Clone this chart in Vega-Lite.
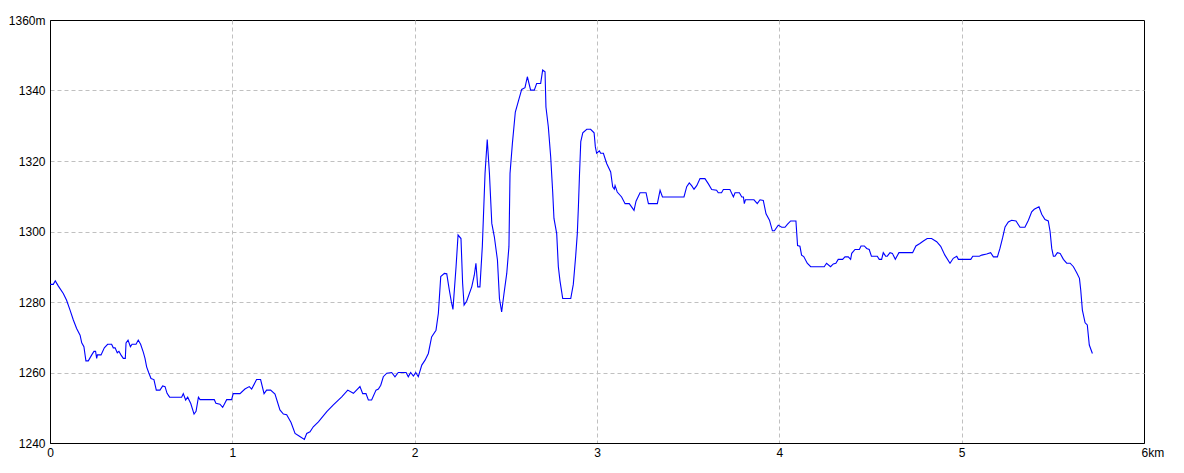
{
  "$schema": "https://vega.github.io/schema/vega-lite/v6.json",
  "width": 1094,
  "height": 423,
  "autosize": {"type": "none"},
  "padding": {"left": 50, "top": 20, "right": 40, "bottom": 30},
  "background": "white",
  "config": {
    "view": {"stroke": "black", "strokeWidth": 1},
    "axis": {
      "labelFont": "Liberation Sans",
      "labelFontSize": 12,
      "labelColor": "black",
      "ticks": false,
      "domainColor": "black",
      "domainWidth": 1,
      "gridColor": "#c0c0c0",
      "gridDash": [4, 3],
      "gridWidth": 1,
      "title": null
    }
  },
  "data": {
    "values": [
      {"d":0,"e":1285},{"d":0.018,"e":1285},{"d":0.029,"e":1286},{"d":0.046,"e":1284.5},{"d":0.073,"e":1282.4},{"d":0.091,"e":1280.5},{"d":0.11,"e":1277.7},{"d":0.128,"e":1274.9},{"d":0.146,"e":1272.5},{"d":0.165,"e":1270.6},{"d":0.174,"e":1268.4},{"d":0.186,"e":1267.3},{"d":0.197,"e":1263.3},{"d":0.21,"e":1263.3},{"d":0.229,"e":1265},{"d":0.241,"e":1266},{"d":0.25,"e":1266},{"d":0.256,"e":1264},{"d":0.26,"e":1265},{"d":0.28,"e":1265},{"d":0.298,"e":1267},{"d":0.316,"e":1268},{"d":0.338,"e":1268},{"d":0.347,"e":1267},{"d":0.357,"e":1267},{"d":0.369,"e":1265.6},{"d":0.378,"e":1266},{"d":0.389,"e":1265},{"d":0.402,"e":1264},{"d":0.413,"e":1264},{"d":0.417,"e":1268.4},{"d":0.428,"e":1269.2},{"d":0.441,"e":1267.3},{"d":0.45,"e":1268},{"d":0.472,"e":1268},{"d":0.484,"e":1269.2},{"d":0.497,"e":1268},{"d":0.512,"e":1265.7},{"d":0.521,"e":1264},{"d":0.53,"e":1261.6},{"d":0.541,"e":1260},{"d":0.554,"e":1258.3},{"d":0.57,"e":1258},{"d":0.583,"e":1255},{"d":0.603,"e":1255},{"d":0.618,"e":1256.2},{"d":0.631,"e":1256},{"d":0.642,"e":1254.1},{"d":0.656,"e":1253},{"d":0.722,"e":1253},{"d":0.731,"e":1254},{"d":0.744,"e":1252.2},{"d":0.755,"e":1253},{"d":0.772,"e":1251.2},{"d":0.79,"e":1248.2},{"d":0.801,"e":1249},{"d":0.814,"e":1253},{"d":0.823,"e":1252.3},{"d":0.901,"e":1252.3},{"d":0.91,"e":1251.3},{"d":0.932,"e":1251},{"d":0.947,"e":1250.1},{"d":0.969,"e":1252.3},{"d":0.996,"e":1252.3},{"d":1.005,"e":1254},{"d":1.042,"e":1254},{"d":1.069,"e":1255.3},{"d":1.093,"e":1256},{"d":1.106,"e":1255.3},{"d":1.133,"e":1258},{"d":1.155,"e":1258},{"d":1.174,"e":1254},{"d":1.188,"e":1255},{"d":1.21,"e":1255},{"d":1.234,"e":1253.9},{"d":1.261,"e":1249.4},{"d":1.28,"e":1248.2},{"d":1.298,"e":1248},{"d":1.322,"e":1245.8},{"d":1.344,"e":1242.7},{"d":1.366,"e":1242},{"d":1.395,"e":1241},{"d":1.408,"e":1242.7},{"d":1.426,"e":1243.2},{"d":1.444,"e":1244.6},{"d":1.472,"e":1246},{"d":1.518,"e":1248.9},{"d":1.554,"e":1250.8},{"d":1.6,"e":1253.1},{"d":1.633,"e":1255},{"d":1.664,"e":1254.1},{"d":1.7,"e":1256},{"d":1.715,"e":1254},{"d":1.733,"e":1254},{"d":1.746,"e":1252.2},{"d":1.764,"e":1252.2},{"d":1.788,"e":1255},{"d":1.801,"e":1255.3},{"d":1.814,"e":1256.4},{"d":1.828,"e":1258.8},{"d":1.847,"e":1259.8},{"d":1.874,"e":1260},{"d":1.892,"e":1258.8},{"d":1.91,"e":1260},{"d":1.953,"e":1260},{"d":1.965,"e":1258.8},{"d":1.978,"e":1260},{"d":1.993,"e":1259},{"d":2.006,"e":1260},{"d":2.02,"e":1258.8},{"d":2.039,"e":1262.1},{"d":2.057,"e":1263.5},{"d":2.075,"e":1265.4},{"d":2.093,"e":1270.1},{"d":2.117,"e":1272},{"d":2.13,"e":1276.8},{"d":2.143,"e":1287.2},{"d":2.163,"e":1288.1},{"d":2.176,"e":1288},{"d":2.19,"e":1283.4},{"d":2.201,"e":1280.1},{"d":2.21,"e":1277.9},{"d":2.227,"e":1290},{"d":2.238,"e":1299},{"d":2.254,"e":1298},{"d":2.263,"e":1285.3},{"d":2.271,"e":1279.1},{"d":2.285,"e":1280.2},{"d":2.313,"e":1284.3},{"d":2.327,"e":1287.6},{"d":2.336,"e":1291},{"d":2.346,"e":1284.3},{"d":2.358,"e":1284.3},{"d":2.371,"e":1295.7},{"d":2.386,"e":1316.5},{"d":2.398,"e":1326.1},{"d":2.41,"e":1316.5},{"d":2.423,"e":1302.3},{"d":2.437,"e":1298.5},{"d":2.454,"e":1291.9},{"d":2.465,"e":1281},{"d":2.477,"e":1277.2},{"d":2.49,"e":1282.4},{"d":2.505,"e":1288.1},{"d":2.517,"e":1295.7},{"d":2.523,"e":1316.5},{"d":2.536,"e":1325},{"d":2.552,"e":1333.9},{"d":2.57,"e":1337.2},{"d":2.587,"e":1340.3},{"d":2.605,"e":1340.8},{"d":2.618,"e":1343.9},{"d":2.636,"e":1340.1},{"d":2.656,"e":1340.1},{"d":2.669,"e":1342},{"d":2.691,"e":1342},{"d":2.702,"e":1345.8},{"d":2.715,"e":1345.3},{"d":2.72,"e":1335.3},{"d":2.733,"e":1329.7},{"d":2.746,"e":1321.2},{"d":2.757,"e":1311.2},{"d":2.764,"e":1303.7},{"d":2.779,"e":1299.4},{"d":2.788,"e":1290},{"d":2.797,"e":1286},{"d":2.812,"e":1281},{"d":2.856,"e":1281},{"d":2.87,"e":1285},{"d":2.883,"e":1293},{"d":2.892,"e":1299.4},{"d":2.898,"e":1307},{"d":2.904,"e":1316.2},{"d":2.911,"e":1325.5},{"d":2.922,"e":1328},{"d":2.944,"e":1329},{"d":2.965,"e":1329},{"d":2.984,"e":1328},{"d":2.991,"e":1324},{"d":2.998,"e":1322.2},{"d":3.013,"e":1322.9},{"d":3.02,"e":1322.2},{"d":3.035,"e":1322.2},{"d":3.053,"e":1319.3},{"d":3.075,"e":1316.9},{"d":3.086,"e":1312.7},{"d":3.095,"e":1312},{"d":3.099,"e":1313},{"d":3.111,"e":1311.2},{"d":3.135,"e":1309.8},{"d":3.154,"e":1307.9},{"d":3.177,"e":1307.9},{"d":3.203,"e":1306},{"d":3.214,"e":1308.6},{"d":3.236,"e":1311},{"d":3.269,"e":1311},{"d":3.282,"e":1307.9},{"d":3.331,"e":1307.9},{"d":3.346,"e":1311.7},{"d":3.359,"e":1309.8},{"d":3.477,"e":1309.8},{"d":3.492,"e":1312.7},{"d":3.506,"e":1313.8},{"d":3.519,"e":1313},{"d":3.532,"e":1312},{"d":3.547,"e":1313},{"d":3.565,"e":1315},{"d":3.592,"e":1315},{"d":3.611,"e":1313.5},{"d":3.629,"e":1311.9},{"d":3.656,"e":1311.7},{"d":3.665,"e":1311},{"d":3.683,"e":1311},{"d":3.693,"e":1311.9},{"d":3.729,"e":1311.9},{"d":3.748,"e":1309.8},{"d":3.757,"e":1311},{"d":3.781,"e":1311},{"d":3.794,"e":1309.8},{"d":3.803,"e":1309.8},{"d":3.808,"e":1307.9},{"d":3.814,"e":1309},{"d":3.861,"e":1309},{"d":3.879,"e":1307.9},{"d":3.894,"e":1309},{"d":3.912,"e":1308.8},{"d":3.927,"e":1305},{"d":3.946,"e":1303.2},{"d":3.962,"e":1300.2},{"d":3.973,"e":1300.2},{"d":3.994,"e":1301.8},{"d":4.013,"e":1301.2},{"d":4.031,"e":1301.2},{"d":4.044,"e":1302},{"d":4.062,"e":1303},{"d":4.091,"e":1303},{"d":4.1,"e":1296},{"d":4.113,"e":1295.8},{"d":4.122,"e":1293.3},{"d":4.134,"e":1292.9},{"d":4.153,"e":1291},{"d":4.172,"e":1290},{"d":4.246,"e":1290},{"d":4.259,"e":1291},{"d":4.281,"e":1290},{"d":4.296,"e":1290.8},{"d":4.31,"e":1291},{"d":4.323,"e":1292.1},{"d":4.347,"e":1292.1},{"d":4.36,"e":1292.8},{"d":4.378,"e":1292.8},{"d":4.391,"e":1292.1},{"d":4.397,"e":1293.8},{"d":4.415,"e":1294.9},{"d":4.439,"e":1294.9},{"d":4.448,"e":1295.9},{"d":4.466,"e":1295.9},{"d":4.479,"e":1295.2},{"d":4.493,"e":1294.9},{"d":4.505,"e":1293},{"d":4.537,"e":1293},{"d":4.548,"e":1292.1},{"d":4.561,"e":1292.1},{"d":4.57,"e":1294},{"d":4.583,"e":1293},{"d":4.592,"e":1293},{"d":4.607,"e":1294},{"d":4.62,"e":1293.8},{"d":4.636,"e":1292.1},{"d":4.656,"e":1294},{"d":4.731,"e":1294},{"d":4.749,"e":1295.9},{"d":4.771,"e":1296.6},{"d":4.79,"e":1297.3},{"d":4.811,"e":1298},{"d":4.835,"e":1298},{"d":4.863,"e":1297.1},{"d":4.885,"e":1295.8},{"d":4.908,"e":1293.3},{"d":4.936,"e":1291},{"d":4.954,"e":1292.4},{"d":4.973,"e":1293},{"d":4.982,"e":1292.1},{"d":5.05,"e":1292.1},{"d":5.061,"e":1293},{"d":5.097,"e":1293},{"d":5.11,"e":1293.3},{"d":5.137,"e":1293.6},{"d":5.159,"e":1294},{"d":5.174,"e":1292.8},{"d":5.196,"e":1292.8},{"d":5.21,"e":1295.2},{"d":5.225,"e":1298.3},{"d":5.238,"e":1301.3},{"d":5.256,"e":1302.7},{"d":5.274,"e":1303.2},{"d":5.298,"e":1303},{"d":5.32,"e":1301.2},{"d":5.347,"e":1301.2},{"d":5.366,"e":1303.2},{"d":5.384,"e":1305.6},{"d":5.398,"e":1306.3},{"d":5.424,"e":1307},{"d":5.439,"e":1304.9},{"d":5.457,"e":1303.4},{"d":5.475,"e":1303},{"d":5.485,"e":1300},{"d":5.494,"e":1295.2},{"d":5.503,"e":1293},{"d":5.512,"e":1293},{"d":5.525,"e":1294},{"d":5.54,"e":1293.8},{"d":5.558,"e":1292.1},{"d":5.576,"e":1291},{"d":5.595,"e":1291},{"d":5.613,"e":1290},{"d":5.631,"e":1288.3},{"d":5.646,"e":1286.7},{"d":5.653,"e":1283.4},{"d":5.662,"e":1277.7},{"d":5.677,"e":1274.1},{"d":5.689,"e":1273.5},{"d":5.7,"e":1267.8},{"d":5.717,"e":1265.4}
    ]
  },
  "mark": {"type": "line", "color": "#0000ff", "strokeWidth": 1.1, "interpolate": "linear"},
  "encoding": {
    "x": {
      "field": "d",
      "type": "quantitative",
      "scale": {"domain": [0, 6], "nice": false, "zero": false},
      "axis": {
        "values": [0, 1, 2, 3, 4, 5, 6],
        "labelExpr": "datum.value == 6 ? '6km' : datum.label",
        "labelAlign": {"condition": {"test": "datum.value == 6", "value": "left"}, "value": "center"},
        "labelOffset": {"condition": {"test": "datum.value == 6", "value": -3}, "value": 0},
        "labelPadding": 4,
        "gridOpacity": {"condition": {"test": "datum.value == 0 || datum.value == 6", "value": 0}, "value": 1}
      }
    },
    "y": {
      "field": "e",
      "type": "quantitative",
      "scale": {"domain": [1240, 1360], "nice": false, "zero": false},
      "axis": {
        "values": [1240, 1260, 1280, 1300, 1320, 1340, 1360],
        "labelExpr": "datum.value == 1360 ? '1360m' : datum.label",
        "format": "d",
        "labelPadding": 5,
        "gridOpacity": {"condition": {"test": "datum.value == 1240 || datum.value == 1360", "value": 0}, "value": 1}
      }
    }
  }
}
